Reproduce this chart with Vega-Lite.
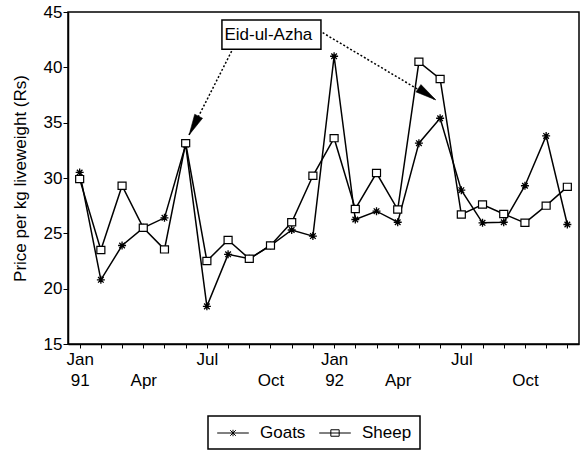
{
  "$schema": "https://vega.github.io/schema/vega-lite/v6.json",
  "width": 511,
  "height": 332,
  "autosize": "none",
  "padding": {"left": 68, "top": 12, "right": 1, "bottom": 107},
  "background": "white",
  "resolve": {"axis": {"x": "independent"}},
  "config": {
    "font": "Liberation Sans",
    "view": {"stroke": "black", "strokeWidth": 1.5},
    "axis": {
      "domainColor": "black", "domainWidth": 1.5, "tickColor": "black", "tickWidth": 1,
      "labelColor": "black", "titleColor": "black", "labelFont": "Liberation Sans",
      "titleFont": "Liberation Sans", "labelFontSize": 17, "titleFontSize": 17,
      "titleFontWeight": "normal", "grid": false
    },
    "text": {"font": "Liberation Sans"}
  },
  "datasets": {
    "prices": [
      {"month": 0, "value": 30.5, "species": "Goats"},
      {"month": 1, "value": 20.8, "species": "Goats"},
      {"month": 2, "value": 23.9, "species": "Goats"},
      {"month": 3, "value": 25.5, "species": "Goats"},
      {"month": 4, "value": 26.4, "species": "Goats"},
      {"month": 5, "value": 33.0, "species": "Goats"},
      {"month": 6, "value": 18.4, "species": "Goats"},
      {"month": 7, "value": 23.1, "species": "Goats"},
      {"month": 8, "value": 22.7, "species": "Goats"},
      {"month": 9, "value": 23.9, "species": "Goats"},
      {"month": 10, "value": 25.3, "species": "Goats"},
      {"month": 11, "value": 24.75, "species": "Goats"},
      {"month": 12, "value": 41.0, "species": "Goats"},
      {"month": 13, "value": 26.25, "species": "Goats"},
      {"month": 14, "value": 27.0, "species": "Goats"},
      {"month": 15, "value": 26.0, "species": "Goats"},
      {"month": 16, "value": 33.15, "species": "Goats"},
      {"month": 17, "value": 35.4, "species": "Goats"},
      {"month": 18, "value": 28.9, "species": "Goats"},
      {"month": 19, "value": 25.95, "species": "Goats"},
      {"month": 20, "value": 26.0, "species": "Goats"},
      {"month": 21, "value": 29.3, "species": "Goats"},
      {"month": 22, "value": 33.8, "species": "Goats"},
      {"month": 23, "value": 25.8, "species": "Goats"},
      {"month": 0, "value": 29.9, "species": "Sheep"},
      {"month": 1, "value": 23.5, "species": "Sheep"},
      {"month": 2, "value": 29.3, "species": "Sheep"},
      {"month": 3, "value": 25.5, "species": "Sheep"},
      {"month": 4, "value": 23.55, "species": "Sheep"},
      {"month": 5, "value": 33.15, "species": "Sheep"},
      {"month": 6, "value": 22.5, "species": "Sheep"},
      {"month": 7, "value": 24.4, "species": "Sheep"},
      {"month": 8, "value": 22.7, "species": "Sheep"},
      {"month": 9, "value": 23.9, "species": "Sheep"},
      {"month": 10, "value": 26.0, "species": "Sheep"},
      {"month": 11, "value": 30.2, "species": "Sheep"},
      {"month": 12, "value": 33.6, "species": "Sheep"},
      {"month": 13, "value": 27.2, "species": "Sheep"},
      {"month": 14, "value": 30.45, "species": "Sheep"},
      {"month": 15, "value": 27.15, "species": "Sheep"},
      {"month": 16, "value": 40.5, "species": "Sheep"},
      {"month": 17, "value": 38.95, "species": "Sheep"},
      {"month": 18, "value": 26.7, "species": "Sheep"},
      {"month": 19, "value": 27.6, "species": "Sheep"},
      {"month": 20, "value": 26.75, "species": "Sheep"},
      {"month": 21, "value": 25.95, "species": "Sheep"},
      {"month": 22, "value": 27.5, "species": "Sheep"},
      {"month": 23, "value": 29.2, "species": "Sheep"}
    ],
    "arrows": [
      {"arrow": "left", "month": 7.22, "value": 41.66},
      {"arrow": "left", "month": 5.16, "value": 33.89},
      {"arrow": "right", "month": 11.46, "value": 43.13},
      {"arrow": "right", "month": 16.8, "value": 37.05}
    ],
    "heads": [
      {"arrow": "left", "month": 5.16, "value": 33.89},
      {"arrow": "right", "month": 16.8, "value": 37.05}
    ],
    "label": [
      {"month": 6.71, "month2": 11.38, "value": 44.28, "value2": 41.63, "tmonth": 8.9, "tvalue": 42.47, "text": "Eid-ul-Azha"}
    ]
  },
  "layer": [
    {
      "data": {"name": "prices"},
      "mark": {"type": "line", "strokeWidth": 1.5},
      "encoding": {
        "x": {
          "field": "month", "type": "quantitative",
          "scale": {"domain": [-0.55, 23.55], "nice": false, "zero": false},
          "axis": {
            "title": null, "orient": "bottom",
            "values": [0,1,2,3,4,5,6,7,8,9,10,11,12,13,14,15,16,17,18,19,20,21,22,23],
            "tickSize": 4, "labelPadding": 3,
            "labelOverlap": false, "labelBound": false, "labelFlush": false,
            "labelExpr": "datum.value == 0 || datum.value == 12 ? 'Jan' : (datum.value == 6 || datum.value == 18) ? 'Jul' : ''"
          }
        },
        "y": {
          "field": "value", "type": "quantitative",
          "scale": {"domain": [15, 45], "nice": false, "zero": false},
          "axis": {
            "title": "Price per kg liveweight (Rs)", "titleColor": "#000000",
            "values": [15, 20, 25, 30, 35, 40, 45],
            "tickSize": 5, "labelPadding": 1, "titlePadding": 14
          }
        },
        "stroke": {
          "field": "species", "type": "nominal",
          "scale": {"domain": ["Goats", "Sheep"], "range": ["black", "black"]},
          "legend": {
            "title": null, "orient": "none", "legendX": 140, "legendY": 404,
            "direction": "horizontal", "strokeColor": "black", "padding": 8,
            "labelFontSize": 17, "labelFont": "Liberation Sans", "labelColor": "black",
            "symbolSize": 289, "symbolStrokeWidth": 1, "symbolStrokeColor": "black",
            "symbolOpacity": 1, "symbolOffset": 8, "labelOffset": 18, "columnPadding": 11,
            "encode": {
              "legend": {"update": {"strokeWidth": {"value": 1.5}}}
            }
          }
        }
      }
    },
    {
      "data": {"name": "arrows"},
      "mark": {"type": "line", "stroke": "black", "strokeWidth": 1.5, "strokeDash": [2, 2]},
      "encoding": {
        "x": {
          "field": "month", "type": "quantitative",
          "axis": {
            "title": null, "orient": "bottom", "domain": false, "ticks": true, "tickOpacity": 0, "tickSize": 4,
            "values": [0, 3, 9, 12, 15, 21], "labelPadding": 24,
            "labelOverlap": false, "labelBound": false, "labelFlush": false,
            "labelExpr": "datum.value == 0 ? '91' : datum.value == 12 ? '92' : (datum.value == 3 || datum.value == 15) ? 'Apr' : 'Oct'"
          }
        },
        "y": {"field": "value", "type": "quantitative"},
        "detail": {"field": "arrow"}
      }
    },
    {
      "data": {"name": "heads"},
      "transform": [{"filter": "datum.arrow == 'left'"}],
      "mark": {"type": "point", "shape": "M0,0L-0.42,2L0.42,2Z", "size": 441, "filled": true, "fill": "black", "stroke": "black", "strokeWidth": 0.5, "angle": 207, "opacity": 1},
      "encoding": {
        "x": {"field": "month", "type": "quantitative", "axis": null},
        "y": {"field": "value", "type": "quantitative"}
      }
    },
    {
      "data": {"name": "heads"},
      "transform": [{"filter": "datum.arrow == 'right'"}],
      "mark": {"type": "point", "shape": "M0,0L-0.42,2L0.42,2Z", "size": 441, "filled": true, "fill": "black", "stroke": "black", "strokeWidth": 0.5, "angle": 124, "opacity": 1},
      "encoding": {
        "x": {"field": "month", "type": "quantitative", "axis": null},
        "y": {"field": "value", "type": "quantitative"}
      }
    },
    {
      "data": {"name": "prices"},
      "mark": {"type": "point", "opacity": 0, "size": 1},
      "encoding": {
        "x": {"field": "month", "type": "quantitative", "axis": null},
        "y": {"field": "value", "type": "quantitative"},
        "shape": {
          "field": "species", "type": "nominal",
          "scale": {
            "domain": ["Goats", "Sheep"],
            "range": [
              "M-1.86,0H1.86M0,-0.38V0.38M-0.33,-0.33L0.33,0.33M-0.33,0.33L0.33,-0.33",
              "M-1.86,0H1.86M-0.49,-0.38H0.49V0.38H-0.49Z"
            ]
          },
          "legend": null
        }
      }
    },
    {
      "data": {"name": "prices"},
      "transform": [{"filter": "datum.species == 'Goats'"}],
      "mark": {"type": "point", "shape": "M-1,0H1M0,-1V1M-0.7,-0.7L0.7,0.7M-0.7,0.7L0.7,-0.7", "filled": false, "stroke": "black", "strokeWidth": 1.3, "size": 64, "opacity": 1},
      "encoding": {
        "x": {"field": "month", "type": "quantitative", "axis": null},
        "y": {"field": "value", "type": "quantitative"}
      }
    },
    {
      "data": {"name": "prices"},
      "transform": [{"filter": "datum.species == 'Sheep'"}],
      "mark": {"type": "point", "shape": "M-1,-0.9H1V0.9H-1Z", "filled": true, "fill": "white", "stroke": "black", "strokeWidth": 1.2, "size": 64, "opacity": 1},
      "encoding": {
        "x": {"field": "month", "type": "quantitative", "axis": null},
        "y": {"field": "value", "type": "quantitative"}
      }
    },
    {
      "data": {"name": "label"},
      "mark": {"type": "rect", "fill": "white", "stroke": "black", "strokeWidth": 1.5},
      "encoding": {
        "x": {"field": "month", "type": "quantitative", "axis": null},
        "x2": {"field": "month2"},
        "y": {"field": "value", "type": "quantitative"},
        "y2": {"field": "value2"}
      }
    },
    {
      "data": {"name": "label"},
      "mark": {"type": "text", "fontSize": 17, "font": "Liberation Sans", "align": "center", "baseline": "alphabetic", "color": "black"},
      "encoding": {
        "x": {"field": "tmonth", "type": "quantitative", "axis": null},
        "y": {"field": "tvalue", "type": "quantitative"},
        "text": {"field": "text"}
      }
    }
  ]
}
